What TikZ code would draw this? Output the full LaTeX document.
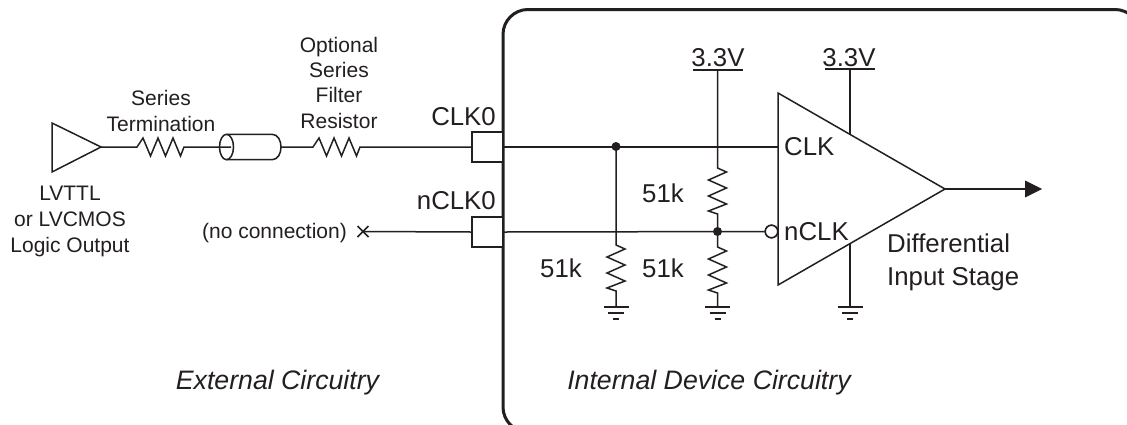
\documentclass[tikz,border=0pt]{standalone}
\usepackage{fontspec}
\setmainfont{Liberation Sans}
\newcommand\hzig{-- ++(6,-9) -- ++(7.5,18) -- ++(7.5,-18) -- ++(7.5,18) -- ++(7.5,-18) -- ++(7.5,18) -- ++(3.5,-9)}
\newcommand\vzig{-- ++(9,4) -- ++(-18,8) -- ++(18,8) -- ++(-18,8) -- ++(18,8) -- ++(-18,7) -- ++(9,3)}
\newcommand\gndmark[1]{\draw[wire] (#1) ++(-12.5,0) -- ++(25,0); \draw[wire] (#1) ++(-8,6) -- ++(16,0); \draw[wire] (#1) ++(-3,12) -- ++(6,0);}
\tikzset{
  wire/.style={line width=1.5pt,draw=inkc,line join=miter},
  lg/.style={font=\fontsize{25.8}{25}\selectfont,inner sep=0pt,anchor=base,text=inkc},
  sm/.style={font=\fontsize{21}{25.3}\selectfont,inner sep=0pt,align=center,text=inkc},
  ital/.style={font=\fontsize{26.7}{25}\selectfont\itshape,inner sep=0pt,anchor=base,text=inkc},
  padbox/.style={draw=inkc,line width=1.5pt,fill=white,minimum width=31pt,minimum height=30pt,inner sep=0pt},
  dotn/.style={circle,fill=inkc,inner sep=0pt,minimum size=9pt},
  bubl/.style={circle,draw=inkc,line width=1.5pt,fill=white,minimum size=12.5pt,inner sep=0pt},
}
\definecolor{inkc}{RGB}{35,31,32}
\begin{document}
\begin{tikzpicture}[x=1pt,y=-1pt]
\useasboundingbox (0,0) rectangle (1127,424);
\fill[white] (0,0) rectangle (1127,424);
\begin{scope}
\clip (0,0) rectangle (1127,424);
\draw[inkc,line width=3pt,rounded corners=25pt] (503,9.5) rectangle (1140,432);
\end{scope}
% points
\coordinate (bufT) at (52,123); \coordinate (bufB) at (52,172); \coordinate (bufO) at (101,147);
\coordinate (r1a) at (137,147); \coordinate (coaxL) at (231,147); \coordinate (coaxR) at (280,147);
\coordinate (r2a) at (313,147); \coordinate (ncx) at (363,231.5);
\node[padbox] (clkpad) at (487.5,147) {};
\node[padbox] (nclkpad) at (487.5,232) {};
\node[dotn] (dotA) at (616,146.5) {};
\node[dotn] (dotB) at (717.5,231.5) {};
\coordinate (ampT) at (778,93); \coordinate (ampB) at (778,285); \coordinate (ampO) at (945,189);
\node[bubl] (bub) at (771.5,231.5) {};
\coordinate (clkin) at (778,147);
\coordinate (vccA) at (717.5,70); \coordinate (vccB) at (850,69);
\coordinate (gA) at (616,307); \coordinate (gB) at (717.5,307); \coordinate (gC) at (850,307);
\coordinate (ampVt) at (850,134); \coordinate (ampVb) at (850,244);
\coordinate (outEnd) at (1042,189);
% buffer
\draw[wire,fill=white] (bufT) -- (bufO) -- (bufB) -- cycle;
\draw[wire] (bufO) -- (r1a) \hzig -- (coaxL);
% coax
\draw[wire] (226.5,134.3) -- (272,134.3) .. controls (284,134.3) and (284,159.7) .. (272,159.7) -- (226.5,159.7);
\draw[wire] (226.5,147) ellipse [x radius=7,y radius=12.7];
\draw[wire] (coaxR) -- (r2a) \hzig -- (clkpad.west);
\draw[wire] (ncx) -- (nclkpad.west);
\draw[wire] (ncx) ++(-5.5,-5.5) -- ++(11,11) ++(0,-11) -- ++(-11,11);
% internal
\draw[wire] (clkpad.east) -- (clkin);
\draw[wire] (nclkpad.east) -- (bub.west);
\draw[wire] (dotA.center) -- (616,245) \vzig -- (gA);
\draw[wire] (vccA) -- (717.5,168) \vzig -- (dotB.center);
\draw[wire] (dotB.center) -- (717.5,247) \vzig -- (gB);
\draw[wire] (693,70) -- (743,70);
\draw[wire] (825,69) -- (875,69);
\draw[wire] (vccB) -- (ampVt);
\draw[wire] (ampVb) -- (gC);
\gndmark{gA}\gndmark{gB}\gndmark{gC}
\draw[wire] (ampT) -- (ampO) -- (ampB) -- cycle;
\node[bubl] at (bub) {};
\draw[wire] (ampO) -- (1026,189);
\fill[inkc] (outEnd) -- (1025,180.5) -- (1025,197.5) -- cycle;
% text
\node[sm,anchor=base] (t1) at (161,131) {Series\\Termination};
\node[sm,anchor=base] (t2) at (339,128) {Optional\\Series\\Filter\\Resistor};
\node[sm,anchor=base,font=\fontsize{21}{26}\selectfont] (t3) at (70,252) {LVTTL\\or LVCMOS\\Logic Output};
\node[sm,anchor=base] (t4) at (274.5,238) {(no connection)};
\node[lg,anchor=base east] (t5) at (496,125) {CLK0};
\node[lg,anchor=base east] (t6) at (496,209) {nCLK0};
\node[lg] (t7) at (718,66) {3.3V};
\node[lg] (t8) at (849,66) {3.3V};
\node[lg,anchor=base west] (t9) at (784,155) {CLK};
\node[lg,anchor=base west] (t10) at (784,240) {nCLK};
\node[lg] (t11) at (663,202) {51k};
\node[lg] (t12) at (561,277) {51k};
\node[lg] (t13) at (663,277) {51k};
\node[lg,anchor=base west] (t14) at (887,252) {Differential};
\node[lg,anchor=base west] (t15) at (887,285) {Input Stage};
\node[ital] (t16) at (277.5,389) {External Circuitry};
\node[ital] (t17) at (709,389) {Internal Device Circuitry};
\end{tikzpicture}
\end{document}
